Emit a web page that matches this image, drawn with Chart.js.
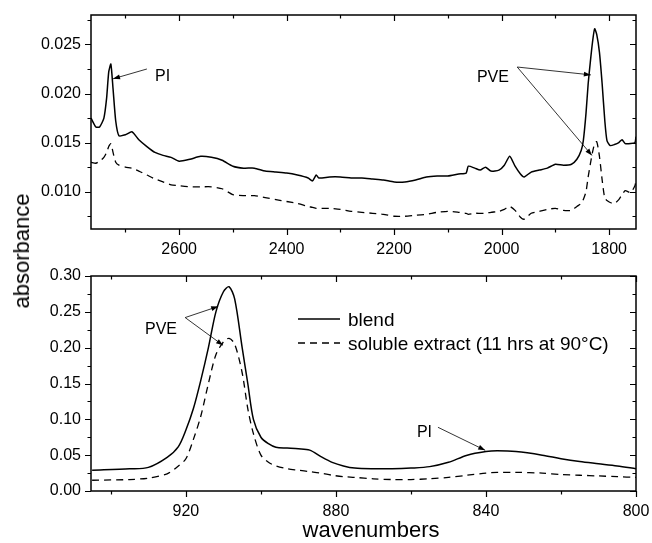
<!DOCTYPE html>
<html>
<head>
<meta charset="utf-8">
<script src="https://cdn.jsdelivr.net/npm/chart.js@4.4.1/dist/chart.umd.min.js"></script>
<style>
  html, body { margin: 0; padding: 0; background: #fff; }
  #wrap { position: relative; width: 652px; height: 543px; overflow: hidden; font-family: 'Liberation Sans', Arial, sans-serif; color: #000; }
  #topChart { position: absolute; left: 0; top: 0; }
  #botChart { position: absolute; left: 0; top: 255px; }
  .axtitle { position: absolute; font-size: 22px; white-space: nowrap; line-height: 1; }
  #ylab { left: 22px; top: 251px; transform: translate(-50%, -50%) rotate(-90deg); }
  #xlab { left: 371px; top: 530px; transform: translate(-50%, -50%); }
</style>
</head>
<body>
<div id="wrap">
  <canvas id="topChart" width="652" height="262"></canvas>
  <canvas id="botChart" width="652" height="288"></canvas>
  <div class="axtitle" id="ylab">absorbance</div>
  <div class="axtitle" id="xlab">wavenumbers</div>
</div>
<script>
// ---- upper panel : 2764 -> 1750 cm-1 ----
const topWaves = [2764, 2755, 2748, 2740, 2735, 2731, 2727, 2723, 2718, 2712,
  2700, 2688, 2675, 2660, 2645, 2630, 2615, 2600, 2580, 2560,
  2540, 2520, 2500, 2480, 2460, 2440, 2420, 2400, 2380, 2360,
  2352, 2345, 2340, 2320, 2300, 2280, 2260, 2240, 2220, 2200,
  2180, 2160, 2140, 2120, 2100, 2080, 2066, 2062, 2050, 2040,
  2030, 2020, 2005, 1995, 1985, 1975, 1965, 1958, 1945, 1930,
  1915, 1900, 1885, 1870, 1860, 1852, 1848, 1843, 1839, 1835,
  1831, 1827, 1823, 1818, 1813, 1808, 1804, 1798, 1790, 1782,
  1776, 1770, 1760, 1752, 1750];
const topBlend = [0.0175, 0.0166, 0.0166, 0.0175, 0.0195, 0.0222, 0.0230, 0.0205, 0.0172, 0.0157,
  0.0158, 0.0161, 0.0153, 0.0146, 0.0140, 0.0137, 0.0135, 0.0131, 0.0133, 0.0136,
  0.0135, 0.0132, 0.0126, 0.0124, 0.0124, 0.0121, 0.0120, 0.0119, 0.0117, 0.0114,
  0.0111, 0.0117, 0.0114, 0.0115, 0.0115, 0.0114, 0.0114, 0.0113, 0.0112, 0.0110,
  0.0110, 0.0112, 0.0115, 0.0116, 0.0116, 0.0118, 0.0119, 0.0126, 0.0124, 0.0122,
  0.0125, 0.0121, 0.0122, 0.0127, 0.0136, 0.0126, 0.0118, 0.0115, 0.0120, 0.0122,
  0.0124, 0.0128, 0.0127, 0.0128, 0.0133, 0.0142, 0.0152, 0.0180, 0.0210, 0.0232,
  0.0252, 0.0266, 0.0260, 0.0242, 0.0210, 0.0172, 0.0152, 0.0147, 0.0148, 0.0150,
  0.0153, 0.0149, 0.0149, 0.0150, 0.0156];
const topExtract = [0.0130, 0.0129, 0.0131, 0.0135, 0.0140, 0.0146, 0.0149, 0.0140, 0.0130, 0.0127,
  0.0125, 0.0124, 0.0121, 0.0117, 0.0113, 0.0110, 0.0107, 0.0106, 0.0105, 0.0105,
  0.0105, 0.0103, 0.0097, 0.0096, 0.0096, 0.0094, 0.0092, 0.0090, 0.0088, 0.0085,
  0.0084, 0.0083, 0.0083, 0.0083, 0.0082, 0.0080, 0.0079, 0.0078, 0.0077, 0.0075,
  0.0075, 0.0076, 0.0077, 0.0079, 0.0080, 0.0079, 0.0078, 0.0077, 0.0078, 0.0078,
  0.0078, 0.0079, 0.0080, 0.0082, 0.0085, 0.0081, 0.0074, 0.0072, 0.0078, 0.0080,
  0.0082, 0.0083, 0.0081, 0.0081, 0.0085, 0.0088, 0.0092, 0.0100, 0.0115, 0.0128,
  0.0140, 0.0149, 0.0151, 0.0136, 0.0112, 0.0093, 0.0091, 0.0089, 0.0088, 0.0092,
  0.0097, 0.0101, 0.0099, 0.0106, 0.0112];
const topXLabels = [2600, 2400, 2200, 2000, 1800];
const topXMinor = [2700, 2500, 2300, 2100, 1900];
const topYLabels = [0.010, 0.015, 0.020, 0.025];
const topYMinor = [0.0075, 0.0125, 0.0175, 0.0225, 0.0275];

// ---- lower panel : 945 -> 800 cm-1 ----
const botWaves = [945, 935, 930, 925, 922, 920, 918, 916, 914, 912,
  910, 908.5, 907, 905, 903.5, 902, 900, 898, 896, 893,
  890, 887, 884, 881, 878, 875, 870, 865, 860, 855,
  850, 845, 840, 837, 832, 825, 820, 815, 810, 805, 800];
const botBlend = [0.029, 0.031, 0.033, 0.047, 0.062, 0.085, 0.115, 0.155, 0.200, 0.250,
  0.278, 0.285, 0.268, 0.200, 0.150, 0.100, 0.075, 0.066, 0.061, 0.060,
  0.059, 0.057, 0.048, 0.040, 0.035, 0.032, 0.031, 0.031, 0.032, 0.034,
  0.040, 0.050, 0.055, 0.056, 0.055, 0.050, 0.045, 0.041, 0.038, 0.035, 0.031];
const botExtract = [0.015, 0.016, 0.018, 0.024, 0.035, 0.045, 0.072, 0.105, 0.150, 0.190,
  0.208, 0.213, 0.205, 0.165, 0.115, 0.080, 0.050, 0.040, 0.035, 0.031,
  0.029, 0.027, 0.025, 0.022, 0.020, 0.019, 0.017, 0.016, 0.016, 0.017,
  0.019, 0.022, 0.025, 0.026, 0.026, 0.025, 0.023, 0.022, 0.021, 0.020, 0.019];
const botXLabels = [920, 880, 840, 800];
const botXMinor = [940, 900, 860, 820];
const botYLabels = [0.00, 0.05, 0.10, 0.15, 0.20, 0.25, 0.30];
const botYMinor = [0.025, 0.075, 0.125, 0.175, 0.225, 0.275];

const seriesNames = ['blend', 'soluble extract (11 hrs at 90\u00B0C)'];
const FONT = "'Liberation Sans', Arial, sans-serif";

// frame, ticks on all four sides, annotations and legend
const framePlugin = {
    id: 'frame',
    afterDraw(chart, args, opts) {
        const { ctx, chartArea: a, scales: { x, y } } = chart;
        ctx.save();
        ctx.strokeStyle = '#000';
        ctx.lineWidth = 1.5;
        ctx.strokeRect(a.left, a.top, a.right - a.left, a.bottom - a.top);

        ctx.lineWidth = 1.2;
        ctx.beginPath();
        const xt = opts.xMajor.map(v => [v, 6]).concat(opts.xMinor.map(v => [v, 3.5]));
        xt.forEach(([v, len]) => {
            const px = Math.round(x.getPixelForValue(v)) + 0.5;
            ctx.moveTo(px, a.bottom); ctx.lineTo(px, a.bottom + len);
            ctx.moveTo(px, a.top); ctx.lineTo(px, a.top + len);
        });
        const yt = opts.yMajor.map(v => [v, 6]).concat(opts.yMinor.map(v => [v, 3.5]));
        yt.forEach(([v, len]) => {
            const py = Math.round(y.getPixelForValue(v)) + 0.5;
            ctx.moveTo(a.left, py); ctx.lineTo(a.left - len, py);
            ctx.moveTo(a.right, py); ctx.lineTo(a.right - len, py);
        });
        ctx.stroke();

        // annotations
        ctx.fillStyle = '#000';
        ctx.font = '16px ' + FONT;
        ctx.textBaseline = 'middle';
        ctx.textAlign = 'left';
        opts.notes.forEach(n => {
            ctx.fillText(n.text, x.getPixelForValue(n.x), y.getPixelForValue(n.y));
        });
        ctx.lineWidth = 0.8;
        opts.arrows.forEach(([x0, y0, x1, y1]) => {
            const ax = x.getPixelForValue(x0), ay = y.getPixelForValue(y0);
            const bx = x.getPixelForValue(x1), by = y.getPixelForValue(y1);
            ctx.beginPath();
            ctx.moveTo(ax, ay); ctx.lineTo(bx, by);
            ctx.stroke();
            const ang = Math.atan2(by - ay, bx - ax);
            ctx.beginPath();
            ctx.moveTo(bx, by);
            ctx.lineTo(bx - 7 * Math.cos(ang) + 2.5 * Math.sin(ang), by - 7 * Math.sin(ang) - 2.5 * Math.cos(ang));
            ctx.lineTo(bx - 7 * Math.cos(ang) - 2.5 * Math.sin(ang), by - 7 * Math.sin(ang) + 2.5 * Math.cos(ang));
            ctx.closePath();
            ctx.fill();
        });

        // legend
        if (opts.legend) {
            const L = opts.legend;
            ctx.font = '19px ' + FONT;
            ctx.textBaseline = 'alphabetic';
            chart.data.datasets.forEach((ds, i) => {
                const ly = L.y + i * L.gap;
                ctx.beginPath();
                ctx.lineWidth = ds.borderWidth;
                ctx.setLineDash(ds.borderDash || []);
                ctx.moveTo(L.x, ly); ctx.lineTo(L.x + 42, ly);
                ctx.stroke();
                ctx.setLineDash([]);
                ctx.fillText(ds.label, L.x + 50, ly + 7);
            });
        }
        ctx.restore();
    }
};

function makePanel(id, waves, blend, extract, cfg) {
    const tickFont = { family: FONT, size: 16 };
    return new Chart(document.getElementById(id), {
        type: 'line',
        data: {
            datasets: [
                {
                    label: seriesNames[0],
                    data: waves.map((w, i) => ({ x: w, y: blend[i] })),
                    borderColor: '#000',
                    borderWidth: 1.5,
                    pointRadius: 0,
                    tension: cfg.tension,
                    fill: false
                },
                {
                    label: seriesNames[1],
                    data: waves.map((w, i) => ({ x: w, y: extract[i] })),
                    borderColor: '#000',
                    borderWidth: 1.3,
                    borderDash: [7, 5],
                    pointRadius: 0,
                    tension: cfg.tension,
                    fill: false
                }
            ]
        },
        options: {
            responsive: false,
            animation: false,
            layout: { padding: { left: 0, right: 16, top: cfg.top, bottom: 0 } },
            plugins: {
                legend: { display: false },
                tooltip: { enabled: false },
                frame: {
                    xMajor: cfg.xLabels, xMinor: cfg.xMinor,
                    yMajor: cfg.yLabels, yMinor: cfg.yMinor,
                    notes: cfg.notes, arrows: cfg.arrows, legend: cfg.legend
                }
            },
            scales: {
                x: {
                    type: 'linear',
                    reverse: true,
                    min: cfg.xMin,
                    max: cfg.xMax,
                    afterBuildTicks: s => { s.ticks = cfg.xLabels.map(v => ({ value: v })); },
                    afterFit: s => { s.height = cfg.xAxisH; s.paddingLeft = 0; s.paddingRight = 0; },
                    grid: { display: false, drawTicks: false },
                    border: { display: false },
                    ticks: { font: tickFont, color: '#000', padding: 11, maxRotation: 0, autoSkip: false,
                             callback: v => String(v) }
                },
                y: {
                    type: 'linear',
                    min: cfg.yMin,
                    max: cfg.yMax,
                    afterBuildTicks: s => { s.ticks = cfg.yLabels.map(v => ({ value: v })); },
                    afterFit: s => { s.width = 91; s.paddingTop = 0; s.paddingBottom = 0; },
                    grid: { display: false, drawTicks: false },
                    border: { display: false },
                    ticks: { font: tickFont, color: '#000', padding: 10, autoSkip: false,
                             callback: v => v.toFixed(cfg.yDigits) }
                }
            }
        },
        plugins: [framePlugin]
    });
}

makePanel('topChart', topWaves, topBlend, topExtract, {
    top: 15, xAxisH: 33, tension: 0.2,
    xMin: 1750, xMax: 2764, yMin: 0.0062, yMax: 0.028, yDigits: 3,
    xLabels: topXLabels, xMinor: topXMinor, yLabels: topYLabels, yMinor: topYMinor,
    notes: [{ text: 'PI', x: 2645, y: 0.0217 }, { text: 'PVE', x: 2046, y: 0.0216 }],
    arrows: [[2660, 0.0225, 2723, 0.0215], [1971, 0.0227, 1834, 0.0219], [1971, 0.0227, 1832, 0.0137]],
    legend: null
});

makePanel('botChart', botWaves, botBlend, botExtract, {
    top: 21, xAxisH: 52, tension: 0.3,
    xMin: 800, xMax: 945.3, yMin: 0, yMax: 0.30, yDigits: 2,
    xLabels: botXLabels, xMinor: botXMinor, yLabels: botYLabels, yMinor: botYMinor,
    notes: [{ text: 'PVE', x: 930.9, y: 0.2256 }, { text: 'PI', x: 858.4, y: 0.0819 }],
    arrows: [[920.2, 0.242, 911.4, 0.2575], [920.2, 0.242, 910.1, 0.2033], [852.8, 0.0889, 840.2, 0.0568]],
    legend: { x: 298, y: 64, gap: 24 }
});
</script>
</body>
</html>
